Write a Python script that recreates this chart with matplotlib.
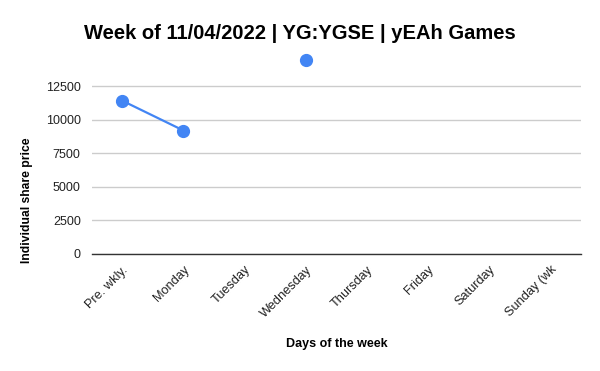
import matplotlib
matplotlib.use("Agg")
import matplotlib.pyplot as plt
import matplotlib.transforms as mtransforms
import numpy as np

days = ["Pre. wkly.", "Monday", "Tuesday", "Wednesday", "Thursday", "Friday", "Saturday", "Sunday (wk"]
prices = [11430, 9210, np.nan, 14440, np.nan, np.nan, np.nan, np.nan]
yticks = [0, 2500, 5000, 7500, 10000, 12500]

plt.rcParams['font.family'] = ['Liberation Sans', 'DejaVu Sans']
fig = plt.figure(figsize=(6, 3.71), dpi=100)
ax = fig.add_axes([0.153, 0.3154, 0.815, 0.542])

x = np.arange(len(days))
ax.plot(x, prices, color='#4285F4', linewidth=1.6, marker='o', markersize=8.5, zorder=3)

ax.set_xlim(-0.5, len(days) - 0.5)
ax.set_ylim(0, 15000)
ax.set_yticks(yticks)
ax.set_yticklabels([str(v) for v in yticks], fontsize=9, color='#222222')
ax.set_xticks(x)
ax.set_xticklabels(days, rotation=45, ha='right', rotation_mode='anchor', fontsize=9.2, color='#222222')
offset = mtransforms.ScaledTranslation(7 / 100, 0, fig.dpi_scale_trans)
for lab in ax.get_xticklabels():
    lab.set_transform(lab.get_transform() + offset)
ax.tick_params(axis='both', length=0)
ax.tick_params(axis='y', pad=8)
ax.tick_params(axis='x', pad=7)
ax.grid(axis='y', color='#cccccc', linewidth=1)
ax.set_axisbelow(True)
for s in ['top', 'right', 'left']:
    ax.spines[s].set_visible(False)
ax.spines['bottom'].set_color('#333333')
ax.spines['bottom'].set_linewidth(1)
ax.spines['bottom'].set_zorder(2)

fig.text(0.5, 0.91, "Week of 11/04/2022 | YG:YGSE | yEAh Games", ha='center', va='center',
         fontsize=14.5, fontweight='bold', color='#000000')
fig.text(0.562, 0.072, "Days of the week", ha='center', va='center', fontsize=9, fontweight='bold')
fig.text(0.045, 0.461, "Individual share price", ha='center', va='center', rotation=90, fontsize=8.7, fontweight='bold')

fig.savefig("out.png", dpi=100)
